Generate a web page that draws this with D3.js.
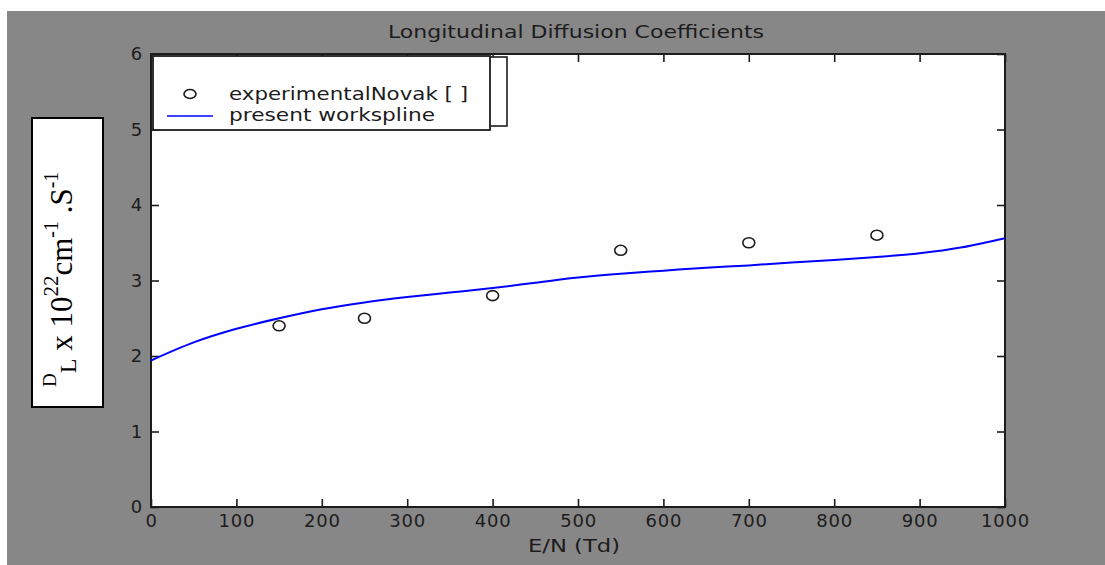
<!DOCTYPE html>
<html>
<head>
<meta charset="utf-8">
<script src="https://cdn.jsdelivr.net/npm/d3@7"></script>
<style>
  html, body { margin: 0; padding: 0; background: #ffffff; }
  svg { display: block; }
</style>
</head>
<body>
<svg id="chart" width="1105" height="565"></svg>
<script>
// Measured points (Novak) and the fitted spline of the present work
const expField = [150, 250, 400, 550, 700, 850];
const expDL = [2.4, 2.5, 2.8, 3.4, 3.5, 3.6];

const splineField = [0, 50, 100, 150, 200, 250, 300, 350, 400, 450, 500,
                     550, 600, 650, 700, 750, 800, 850, 900, 950, 1000];
const splineDL = [1.94, 2.18, 2.36, 2.5, 2.62, 2.71, 2.78, 2.84, 2.9, 2.97, 3.04,
                  3.09, 3.13, 3.17, 3.2, 3.24, 3.27, 3.31, 3.36, 3.44, 3.56];

const xTicks = [0, 100, 200, 300, 400, 500, 600, 700, 800, 900, 1000];
const yTicks = [0, 1, 2, 3, 4, 5, 6];

const titleText = "Longitudinal Diffusion Coefficients";
const xLabelText = "E/N (Td)";
const legendLabels = ["experimentalNovak [ ]", "present workspline"];

const svg = d3.select("#chart");
const sans = "'DejaVu Sans', 'Liberation Sans', sans-serif";
const ink = "#1c1c1c";

// figure background
svg.append("rect").attr("x", 7).attr("y", 11).attr("width", 1098).attr("height", 554)
  .attr("fill", "#878787");

const plot = { left: 151, right: 1005, top: 54, bottom: 507 };
const x = d3.scaleLinear().domain([0, 1000]).range([plot.left, plot.right]);
const y = d3.scaleLinear().domain([0, 6]).range([plot.bottom, plot.top]);

// axes area
svg.append("rect").attr("x", plot.left).attr("y", plot.top)
  .attr("width", plot.right - plot.left).attr("height", plot.bottom - plot.top)
  .attr("fill", "#ffffff");

function styleAxis(g) {
  g.select(".domain").remove();
  g.selectAll(".tick line").attr("stroke", ink).attr("stroke-width", 1.6);
  g.selectAll(".tick text").attr("fill", ink).attr("font-family", sans)
    .attr("font-size", 18).attr("letter-spacing", 0.8);
}

svg.append("g").attr("transform", `translate(0,${plot.bottom})`)
  .call(d3.axisBottom(x).tickValues(xTicks).tickSize(-8).tickPadding(7).tickFormat(d3.format("d")))
  .call(styleAxis);
svg.append("g").attr("transform", `translate(0,${plot.top})`)
  .call(d3.axisTop(x).tickValues(xTicks).tickSize(-8).tickFormat(""))
  .call(styleAxis);
svg.append("g").attr("transform", `translate(${plot.left},0)`)
  .call(d3.axisLeft(y).tickValues(yTicks).tickSize(-8).tickPadding(8).tickFormat(d3.format("d")))
  .call(styleAxis);
svg.append("g").attr("transform", `translate(${plot.right},0)`)
  .call(d3.axisRight(y).tickValues(yTicks).tickSize(-8).tickFormat(""))
  .call(styleAxis);

// axes box
svg.append("rect").attr("x", plot.left).attr("y", plot.top)
  .attr("width", plot.right - plot.left).attr("height", plot.bottom - plot.top)
  .attr("fill", "none").attr("stroke", ink).attr("stroke-width", 2);

// spline curve
const splineData = splineField.map((e, i) => ({ e, d: splineDL[i] }));
svg.append("path").datum(splineData)
  .attr("fill", "none").attr("stroke", "#0000ff").attr("stroke-width", 2)
  .attr("d", d3.line().x(p => x(p.e)).y(p => y(p.d)).curve(d3.curveCatmullRom));

// experimental markers
const expData = expField.map((e, i) => ({ e, d: expDL[i] }));
svg.append("g").selectAll("ellipse").data(expData).join("ellipse")
  .attr("cx", p => x(p.e)).attr("cy", p => y(p.d))
  .attr("rx", 6).attr("ry", 5)
  .attr("fill", "none").attr("stroke", ink).attr("stroke-width", 1.6);

// title and x label
svg.append("text").attr("x", 576).attr("y", 38).attr("text-anchor", "middle")
  .attr("font-family", sans).attr("font-size", 17).attr("fill", ink)
  .attr("textLength", 376).attr("lengthAdjust", "spacingAndGlyphs")
  .text(titleText);
svg.append("text").attr("x", 574).attr("y", 552).attr("text-anchor", "middle")
  .attr("font-family", sans).attr("font-size", 18).attr("fill", ink)
  .attr("textLength", 92).attr("lengthAdjust", "spacingAndGlyphs")
  .text(xLabelText);

// legend (shadow box behind, front box on top)
const legend = svg.append("g");
legend.append("rect").attr("x", 170).attr("y", 57).attr("width", 337).attr("height", 69)
  .attr("fill", "#ffffff").attr("stroke", ink).attr("stroke-width", 1.6);
legend.append("rect").attr("x", 153).attr("y", 56).attr("width", 337).attr("height", 74)
  .attr("fill", "#ffffff").attr("stroke", ink).attr("stroke-width", 1.8);
legend.append("ellipse").attr("cx", 190).attr("cy", 94).attr("rx", 6).attr("ry", 4.5)
  .attr("fill", "none").attr("stroke", ink).attr("stroke-width", 1.6);
legend.append("line").attr("x1", 167).attr("x2", 213).attr("y1", 116).attr("y2", 116)
  .attr("stroke", "#0000ff").attr("stroke-width", 1.6);
legend.append("text").attr("x", 229).attr("y", 100)
  .attr("font-family", sans).attr("font-size", 17).attr("fill", ink)
  .attr("textLength", 239).attr("lengthAdjust", "spacingAndGlyphs")
  .text(legendLabels[0]);
legend.append("text").attr("x", 229).attr("y", 121)
  .attr("font-family", sans).attr("font-size", 17).attr("fill", ink)
  .attr("textLength", 206).attr("lengthAdjust", "spacingAndGlyphs")
  .text(legendLabels[1]);

// y-axis label in its own boxed panel
svg.append("rect").attr("x", 32).attr("y", 118).attr("width", 71).attr("height", 289)
  .attr("fill", "#ffffff").attr("stroke", "#000000").attr("stroke-width", 2);
const yl = svg.append("text")
  .attr("transform", "translate(72,387) rotate(-90)")
  .attr("font-family", "'Liberation Serif', 'Times New Roman', serif")
  .attr("fill", "#000000").attr("font-size", 31);
yl.append("tspan").attr("font-size", 19).attr("dy", -16).text("D");
yl.append("tspan").attr("font-size", 24).attr("dy", 20).text("L");
yl.append("tspan").attr("dy", -4).text(" x 10");
yl.append("tspan").attr("font-size", 21).attr("dy", -14).text("22");
yl.append("tspan").attr("dy", 14).text("cm");
yl.append("tspan").attr("font-size", 20).attr("dy", -14).text("-1");
yl.append("tspan").attr("dy", 14).text(" .S");
yl.append("tspan").attr("font-size", 20).attr("dy", -14).text("-1");
</script>
</body>
</html>
